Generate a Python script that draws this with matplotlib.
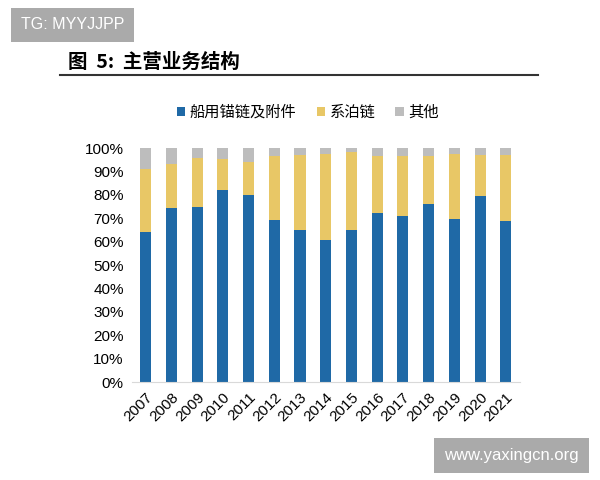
import matplotlib.pyplot as plt
import numpy as np

plt.rcParams['font.family'] = ['Liberation Sans', 'Noto Sans CJK SC', 'DejaVu Sans']

# datos (%)
years = ['2007', '2008', '2009', '2010', '2011', '2012', '2013', '2014',
         '2015', '2016', '2017', '2018', '2019', '2020', '2021']
anchor = [64.1, 74.6, 74.9, 82.1, 79.9, 69.2, 65.2, 60.7, 65.2, 72.1, 70.8, 75.9, 69.5, 79.5, 68.8]
mooring = [26.8, 18.8, 20.7, 13.2, 14.3, 27.5, 31.8, 36.7, 33.2, 24.6, 25.9, 20.7, 27.9, 17.5, 28.2]
other = [9.1, 6.6, 4.4, 4.7, 5.8, 3.3, 3.0, 2.6, 1.6, 3.3, 3.3, 3.4, 2.6, 3.0, 3.0]
labels = ['船用锚链及附件', '系泊链', '其他']
colors = ['#1F69A6', '#E8C766', '#BDBDBD']

fig = plt.figure(figsize=(6, 4.8), dpi=100)
ax = fig.add_axes([0.22, 0.204, 0.647, 0.4875])

x = np.arange(len(years))
w = 0.43
bottom = np.zeros(len(years))
for vals, lab, col in zip([anchor, mooring, other], labels, colors):
    ax.bar(x, vals, w, bottom=bottom, color=col, label=lab, zorder=2)
    bottom += np.array(vals)

ax.set_xlim(-0.53, 14.56)
ax.set_ylim(0, 100)
ax.set_yticks(range(0, 101, 10))
ax.set_yticklabels([f'{v}%' for v in range(0, 101, 10)], fontsize=11)
ax.set_xticks(x)
ax.set_xticklabels(years, rotation=45, ha='right', rotation_mode='anchor', fontsize=11)
ax.tick_params(length=0, pad=6)
for s in ['top', 'right', 'left']:
    ax.spines[s].set_visible(False)
ax.spines['bottom'].set_color('#d9d9d9')

leg = fig.legend(loc='center', bbox_to_anchor=(0.513, 0.765), ncol=3, frameon=False,
                 fontsize=11, handlelength=0.55, handleheight=0.55, handletextpad=0.3,
                 columnspacing=1.3)

# título y línea
fig.text(0.113, 0.87, '图  5:  主营业务结构', fontsize=14, fontweight='bold',
         family=['Noto Sans CJK SC'], va='center')
fig.add_artist(plt.Line2D([0.1, 0.897], [0.843, 0.843], color='#333333', lw=1.5))

# marcas de agua
fig.text(0.1208, 0.948, 'TG: MYYJJPP', color='white', fontsize=11.5, ha='center', va='center',
         bbox=dict(boxstyle='square,pad=0.6', fc='#aaaaaa', ec='none'))
fig.text(0.853, 0.052, 'www.yaxingcn.org', color='white', fontsize=12, ha='center', va='center',
         bbox=dict(boxstyle='square,pad=0.6', fc='#aaaaaa', ec='none'))

plt.savefig('out.png', dpi=100)
